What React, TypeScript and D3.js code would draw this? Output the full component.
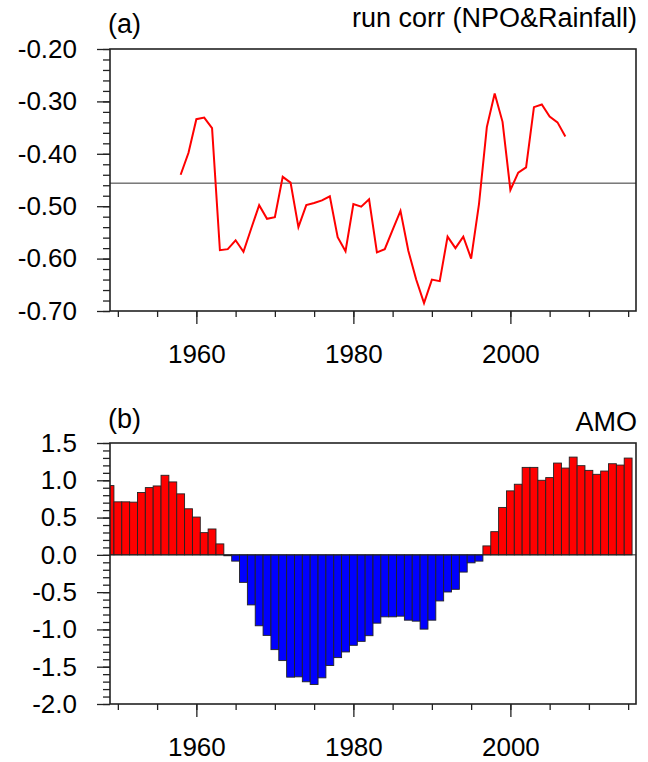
import * as d3 from 'd3';
import React, { useRef, useEffect } from 'react';

// panel (a): running correlation NPO & rainfall
const corrYears = [
  1958, 1959, 1960, 1961, 1962, 1963, 1964, 1965, 1966, 1967,
  1968, 1969, 1970, 1971, 1972, 1973, 1974, 1975, 1976, 1977,
  1978, 1979, 1980, 1981, 1982, 1983, 1984, 1985, 1986, 1987,
  1988, 1989, 1990, 1991, 1992, 1993, 1994, 1995, 1996, 1997,
  1998, 1999, 2000, 2001, 2002, 2003, 2004, 2005, 2006, 2007,
];
const corrValues = [
  -0.440, -0.398, -0.334, -0.331, -0.351, -0.584, -0.582, -0.565, -0.587, -0.542,
  -0.498, -0.524, -0.521, -0.444, -0.455, -0.540, -0.498, -0.494, -0.489, -0.481,
  -0.559, -0.586, -0.496, -0.501, -0.487, -0.588, -0.582, -0.545, -0.509, -0.585,
  -0.640, -0.685, -0.640, -0.643, -0.558, -0.580, -0.558, -0.600, -0.496, -0.349,
  -0.285, -0.339, -0.469, -0.436, -0.426, -0.311, -0.306, -0.329, -0.340, -0.367,
];
const corrThreshold = -0.456;
const corrTicks = [-0.7, -0.6, -0.5, -0.4, -0.3, -0.2];

// panel (b): AMO index
const amoYears = [
  1949, 1950, 1951, 1952, 1953, 1954, 1955, 1956, 1957, 1958,
  1959, 1960, 1961, 1962, 1963, 1964, 1965, 1966, 1967, 1968,
  1969, 1970, 1971, 1972, 1973, 1974, 1975, 1976, 1977, 1978,
  1979, 1980, 1981, 1982, 1983, 1984, 1985, 1986, 1987, 1988,
  1989, 1990, 1991, 1992, 1993, 1994, 1995, 1996, 1997, 1998,
  1999, 2000, 2001, 2002, 2003, 2004, 2005, 2006, 2007, 2008,
  2009, 2010, 2011, 2012, 2013, 2014, 2015,
];
const amoValues = [
  0.929, 0.711, 0.711, 0.707, 0.836, 0.902, 0.924, 1.067, 0.978, 0.818,
  0.618, 0.507, 0.298, 0.347, 0.147, -0.012, -0.084, -0.369, -0.671, -0.951,
  -1.080, -1.271, -1.418, -1.640, -1.636, -1.702, -1.738, -1.649, -1.484, -1.378,
  -1.302, -1.213, -1.160, -1.084, -0.916, -0.831, -0.831, -0.822, -0.876, -0.889,
  -0.996, -0.876, -0.618, -0.498, -0.462, -0.231, -0.107, -0.084, 0.120, 0.311,
  0.636, 0.858, 0.947, 1.173, 1.173, 1.000, 1.036, 1.231, 1.164, 1.311,
  1.196, 1.133, 1.080, 1.124, 1.222, 1.204, 1.298,
];
const amoTicks = [-2.0, -1.5, -1.0, -0.5, 0.0, 0.5, 1.0, 1.5];

const yearTicks = [1960, 1980, 2000];

function RunCorrChart({ width, height }) {
  const ref = useRef();

  useEffect(() => {
    draw();
  }, []);

  const draw = () => {
    const svg = d3.select(ref.current);
    svg.selectAll("*").remove();

    const font = "'Liberation Sans', Arial, Helvetica, sans-serif";
    const left = 110, right = 636;

    var x = d3.scaleLinear().domain([1949, 2016]).range([left, right]);

    const panel = (top, bottom, y, majors, minorStep, fmt, leftTitle, rightTitle, leftBase, rightBase) => {
      const g = svg.append("g");
      const [lo, hi] = y.domain();

      // minor ticks y
      const yMinor = d3.range(Math.round(lo / minorStep), Math.round(hi / minorStep) + 1).map(i => i * minorStep);
      g.append("g")
        .attr("transform", `translate(${left},0)`)
        .call(d3.axisLeft(y).tickValues(yMinor).tickSize(7).tickFormat(() => ""))
        .call(a => a.select(".domain").remove());
      g.append("g")
        .attr("transform", `translate(${left},0)`)
        .call(d3.axisLeft(y).tickValues(majors).tickSize(13).tickPadding(20).tickFormat(fmt))
        .call(a => a.select(".domain").remove())
        .call(a => a.selectAll("text").attr("font-size", 26).attr("font-family", font).attr("fill", "#000"));

      // x ticks
      const xMinor = d3.range(1950, 2016, 5);
      g.append("g")
        .attr("transform", `translate(0,${bottom})`)
        .call(d3.axisBottom(x).tickValues(xMinor).tickSize(6).tickFormat(() => ""))
        .call(a => a.select(".domain").remove());
      g.append("g")
        .attr("transform", `translate(0,${bottom})`)
        .call(d3.axisBottom(x).tickValues(yearTicks).tickSize(13).tickPadding(21).tickFormat(d => String(d)))
        .call(a => a.select(".domain").remove())
        .call(a => a.selectAll("text").attr("font-size", 26).attr("font-family", font).attr("fill", "#000"));

      g.selectAll(".tick line").attr("stroke", "#222").attr("stroke-width", 1.3);

      svg.append("text")
        .attr("x", left - 2).attr("y", leftBase)
        .attr("font-size", 27).attr("font-family", font)
        .text(leftTitle);
      svg.append("text")
        .attr("x", right + 1).attr("y", rightBase)
        .attr("text-anchor", "end")
        .attr("font-size", 27).attr("font-family", font)
        .text(rightTitle);
      return g;
    };

    // ---------- panel (a)
    var y1 = d3.scaleLinear().domain([-0.7, -0.2]).range([311, 49]);
    panel(49, 311, y1, corrTicks, 0.02, d => d.toFixed(2), "(a)", "run corr (NPO&Rainfall)", 33, 27);

    svg.append("line")
      .attr("x1", left).attr("x2", right)
      .attr("y1", y1(corrThreshold)).attr("y2", y1(corrThreshold))
      .attr("stroke", "#333").attr("stroke-width", 1);

    var line = d3.line()
      .x((d, i) => x(corrYears[i]))
      .y(d => y1(d));
    svg.append("path")
      .datum(corrValues)
      .attr("d", line)
      .attr("fill", "none")
      .attr("stroke", "red")
      .attr("stroke-width", 2);

    svg.append("rect")
      .attr("x", left).attr("y", 49).attr("width", right - left).attr("height", 311 - 49)
      .attr("fill", "none").attr("stroke", "#222").attr("stroke-width", 1.6);

    // ---------- panel (b)
    var y2 = d3.scaleLinear().domain([-2.0, 1.5]).range([704, 443]);
    panel(443, 704, y2, amoTicks, 0.1, d => d.toFixed(1), "(b)", "AMO", 428, 431);

    svg.append("clipPath").attr("id", "clipB")
      .append("rect")
      .attr("x", left).attr("y", 443).attr("width", right - left).attr("height", 704 - 443);

    const bw = x(1) - x(0);
    svg.append("g")
      .attr("clip-path", "url(#clipB)")
      .selectAll("rect")
      .data(amoValues)
      .enter()
      .append("rect")
      .attr("x", (d, i) => x(amoYears[i] - 0.5))
      .attr("width", bw)
      .attr("y", d => d >= 0 ? y2(d) : y2(0))
      .attr("height", d => Math.abs(y2(d) - y2(0)))
      .attr("fill", d => d >= 0 ? "#ff0000" : "#0000ff")
      .attr("stroke", "#222")
      .attr("stroke-width", 0.9);

    svg.append("line")
      .attr("x1", left).attr("x2", right)
      .attr("y1", y2(0)).attr("y2", y2(0))
      .attr("stroke", "#222").attr("stroke-width", 1);

    svg.append("rect")
      .attr("x", left).attr("y", 443).attr("width", right - left).attr("height", 704 - 443)
      .attr("fill", "none").attr("stroke", "#222").attr("stroke-width", 1.6);
  };

  return (
    <svg ref={ref} width={width} height={height}
      style={{ position: "absolute", left: 0, top: 0, background: "#fff" }}>
    </svg>
  );
}

export default function App() {
  return <RunCorrChart width={648} height={762} />;
}
